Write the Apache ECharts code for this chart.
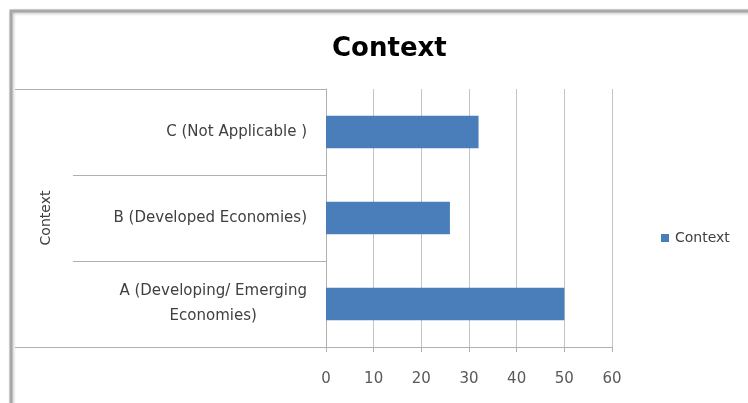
<!DOCTYPE html>
<html>
<head>
<meta charset="utf-8">
<script src="https://cdn.jsdelivr.net/npm/echarts@6/dist/echarts.min.js"></script>
<style>
  html, body { margin: 0; padding: 0; background: #ffffff; }
  #chart { width: 748px; height: 403px; }
</style>
</head>
<body>
<div id="chart"></div>
<script>
// Categories, bottom to top
const categories = [
  'A (Developing/ Emerging\nEconomies)',
  'B (Developed Economies)',
  'C (Not Applicable )'
];
const groupLabels = ['Context'];
const seriesName = 'Context';
const values = [50, 26, 32];
const tickLabels = ['0', '10', '20', '30', '40', '50', '60'];

const FONT = '"DejaVu Sans", "Noto Sans", sans-serif';
const GRID_GRAY = '#c4c4c4';
const AXIS_GRAY = '#b0b0b0';

const chart = echarts.init(document.getElementById('chart'), null, { renderer: 'canvas' });

chart.setOption({
  animation: false,
  backgroundColor: '#ffffff',
  title: {
    text: 'Context',
    left: 327,
    top: 31,
    textStyle: { fontFamily: FONT, fontSize: 26, fontWeight: 'bold', color: '#000000' }
  },
  legend: {
    data: [seriesName],
    left: 656,
    top: 226,
    icon: 'rect',
    itemWidth: 8,
    itemHeight: 8,
    itemGap: 4,
    textStyle: { fontFamily: FONT, fontSize: 14, color: '#404040', padding: [0, 0, 0, 1] }
  },
  grid: { left: 326, right: 136, top: 89, bottom: 56, containLabel: false },
  xAxis: {
    type: 'value',
    min: 0,
    max: 60,
    interval: 10,
    axisLine: { show: true, lineStyle: { color: AXIS_GRAY, width: 1 } },
    axisTick: { show: true, length: 5, lineStyle: { color: AXIS_GRAY } },
    splitLine: { show: true, lineStyle: { color: GRID_GRAY, width: 1 } },
    axisLabel: {
      margin: 25,
      fontFamily: FONT,
      fontSize: 15,
      color: '#595959',
      formatter: (v) => tickLabels[Math.round(v / 10)]
    }
  },
  yAxis: [
    {
      type: 'category',
      position: 'left',
      data: categories,
      axisLine: { show: true, lineStyle: { color: AXIS_GRAY, width: 1 } },
      axisTick: { show: true, length: 253, lineStyle: { color: AXIS_GRAY } },
      axisLabel: {
        margin: 19,
        fontFamily: FONT,
        fontSize: 15,
        lineHeight: 25,
        color: '#404040',
        formatter: (v) => v.split('\n').map((s) => '{c|' + s + '}').join('\n'),
        rich: { c: { align: 'center', fontFamily: FONT, fontSize: 15, lineHeight: 25, color: '#404040' } }
      }
    },
    {
      // outer group level of the category axis
      type: 'category',
      position: 'left',
      data: groupLabels,
      axisLine: { show: false },
      axisTick: { show: true, length: 311, lineStyle: { color: AXIS_GRAY } },
      axisLabel: {
        rotate: 90,
        margin: 273,
        fontFamily: FONT,
        fontSize: 14,
        color: '#404040'
      }
    }
  ],
  series: [
    {
      name: seriesName,
      type: 'bar',
      yAxisIndex: 0,
      data: values,
      barCategoryGap: '62%',
      itemStyle: { color: '#4a7ebb' }
    }
  ],
  graphic: [
    {
      type: 'rect',
      silent: true,
      z: -1,
      shape: { x: 11, y: 11, width: 800, height: 500 },
      style: {
        fill: 'none',
        stroke: '#a8a8a8',
        lineWidth: 3,
        shadowColor: 'rgba(0,0,0,0.25)',
        shadowBlur: 3,
        shadowOffsetX: 1,
        shadowOffsetY: 1
      }
    }
  ]
});
</script>
</body>
</html>
